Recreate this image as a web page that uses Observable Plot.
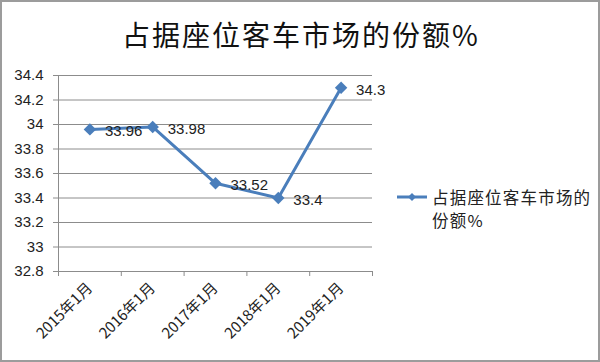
<!DOCTYPE html>
<html>
<head>
<meta charset="utf-8">
<script src="https://cdn.jsdelivr.net/npm/d3@7"></script>
<script src="https://cdn.jsdelivr.net/npm/@observablehq/plot@0.6"></script>
<style>
  html, body { margin: 0; padding: 0; background: #fff; }
  #chart { position: relative; width: 600px; height: 362px; overflow: hidden; background: #fff; }
  #frame { position: absolute; left: 0; top: 0; width: 600px; height: 362px; box-sizing: border-box; border: 2px solid #9c9c9c; pointer-events: none; }
  #title { position: absolute; left: 0; top: 20px; width: 600px; padding-left: 2px; box-sizing: border-box; text-align: center;
           font-family: "Noto Sans CJK SC", sans-serif; font-size: 28px; line-height: 28px; letter-spacing: 2px; color: #111; }
  #plot { position: absolute; left: 0; top: 0; }
  #legend { position: absolute; left: 397px; top: 186px; display: flex; align-items: flex-start;
            font-family: "Noto Sans CJK SC", sans-serif; font-size: 16.5px; line-height: 23px; letter-spacing: 1.2px; color: #222; }
  #legend svg { margin-top: 3px; margin-right: 5px; }
</style>
</head>
<body>
<div id="chart">
  <div id="plot"></div>
  <div id="title"></div>
  <div id="legend"></div>
  <div id="frame"></div>
</div>
<script>
const titleText = "占据座位客车市场的份额%";
const seriesName = "占据座位客车市场的份额%";
const categories = ["2015年1月", "2016年1月", "2017年1月", "2018年1月", "2019年1月"];
const values = [33.96, 33.98, 33.52, 33.4, 34.3];
const yTicks = [32.8, 33, 33.2, 33.4, 33.6, 33.8, 34, 34.2, 34.4];

const color = "#4a7ebb";
const gridColor = "#8c8c8c";

const data = categories.map((c, i) => ({i, cat: c, v: values[i]}));
const boundaries = d3.range(categories.length + 1).map(k => k - 0.5);

document.getElementById("title").textContent = titleText;

const chart = Plot.plot({
  width: 600,
  height: 362,
  marginLeft: 58,
  marginRight: 228,
  marginTop: 75,
  marginBottom: 91,
  style: {fontFamily: "'Liberation Sans', Arial, sans-serif", fontSize: "15px", color: "#222", background: "transparent"},
  x: {type: "linear", domain: [-0.5, categories.length - 0.5], label: null},
  y: {domain: [yTicks[0], yTicks[yTicks.length - 1]], label: null},
  marks: [
    Plot.gridY(yTicks, {stroke: gridColor, strokeOpacity: 1, strokeWidth: 1}),
    Plot.ruleX([-0.5], {y1: yTicks[0], y2: yTicks[yTicks.length - 1], stroke: gridColor, strokeWidth: 1}),
    Plot.axisY({ticks: yTicks, label: null, tickSize: 5, tickPadding: 10, stroke: gridColor, tickFormat: d => String(d), fill: "#222", fontSize: 15}),
    Plot.axisX({ticks: boundaries, label: null, tickSize: 5, tickFormat: () => "", stroke: gridColor}),
    Plot.axisX({ticks: d3.range(categories.length), label: null, tickSize: 0, tickPadding: 14, tickRotate: -45,
                tickFormat: i => categories[i], fontFamily: "'Noto Sans CJK SC', sans-serif", fontSize: 15, fill: "#222"}),
    Plot.lineY(data, {x: "i", y: "v", stroke: color, strokeWidth: 3}),
    Plot.dot(data, {x: "i", y: "v", symbol: "diamond2", r: 5.6, fill: color, stroke: "none"}),
    Plot.text(data, {x: "i", y: "v", text: d => String(d.v), textAnchor: "start", dx: 15, dy: 2, fill: "#222", fontSize: 15})
  ]
});
document.getElementById("plot").appendChild(chart);

// legend
const legend = document.getElementById("legend");
const sw = d3.create("svg").attr("width", 30).attr("height", 16);
sw.append("line").attr("x1", 0).attr("x2", 30).attr("y1", 8).attr("y2", 8).attr("stroke", color).attr("stroke-width", 3);
sw.append("path").attr("d", d3.symbol(d3.symbolDiamond2, 40)()).attr("transform", "translate(15,8)").attr("fill", color);
legend.appendChild(sw.node());
const lt = document.createElement("div");
lt.innerHTML = seriesName.slice(0, 9) + "<br>" + seriesName.slice(9);
legend.appendChild(lt);
</script>
</body>
</html>
